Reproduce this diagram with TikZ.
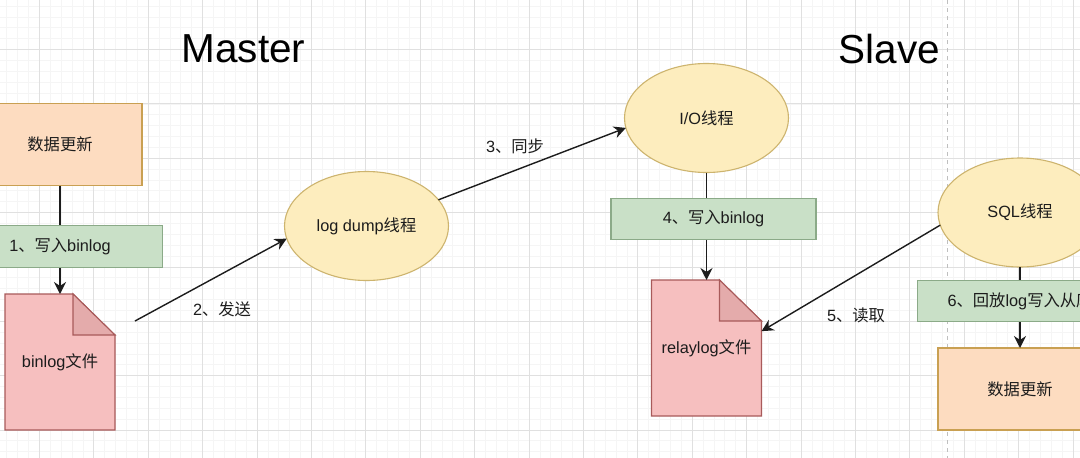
\documentclass[tikz,border=0pt]{standalone}
\usepackage{fontspec}
\setmainfont{Liberation Sans}
\newfontfamily\cjk{Noto Sans CJK SC}
\usetikzlibrary{arrows.meta,shapes.geometric}
\definecolor{rectfill}{HTML}{FDDCC0}
\definecolor{rectline}{HTML}{C9A052}
\definecolor{greenfill}{HTML}{C9E0C7}
\definecolor{greenline}{HTML}{8BAA88}
\definecolor{ellfill}{HTML}{FDEDBE}
\definecolor{ellline}{HTML}{CDB46E}
\definecolor{filefill}{HTML}{F6BFBF}
\definecolor{fileline}{HTML}{A85A5A}
\definecolor{foldfill}{HTML}{E4ABAB}
\definecolor{inkcol}{HTML}{1C1C1C}
\tikzset{
  base/.style={font=\fontsize{16.3}{19}\selectfont,text=inkcol,inner sep=0pt,outer sep=0pt},
  rectbox/.style={base,draw=rectline,fill=rectfill,line width=1.1pt,minimum width=164pt,minimum height=82pt},
  greenbox/.style={base,draw=greenline,fill=greenfill,line width=1.1pt,minimum width=205pt,minimum height=41.5pt},
  thread/.style={base,ellipse,draw=ellline,fill=ellfill,line width=1.1pt,minimum width=164pt,minimum height=109pt},
  filebox/.style={base,minimum width=110pt,minimum height=136pt},
  label/.style={base},
  title/.style={font=\fontsize{40.5}{48}\selectfont,text=black,inner sep=0pt},
  link/.style={draw=inkcol,line width=1.4pt},
  arrow/.style={link,-{Stealth[length=12pt,width=12pt]}}
}
% file icon with its folded corner
\newcommand{\docfile}[4]{
\draw[draw=fileline,fill=filefill,line width=1.1pt,shift={(#2,#3)}] (-55,-68) -- (13,-68) -- (55,-27) -- (55,68) -- (-55,68) -- cycle;
\draw[draw=fileline,fill=foldfill,line width=1.1pt,shift={(#2,#3)}] (13,-68) -- (55,-27) -- (13,-27) -- cycle;
\node[filebox] (#1) at (#2,#3) {#4};
}
\begin{document}
\begin{tikzpicture}[x=1pt,y=-1pt]
\useasboundingbox (0,0) rectangle (1080,458);
\fill[white] (0,0) rectangle (1080,458);

% grid
\foreach \i in {0,...,101} \draw[color=black!4,line width=0.7pt] ({\i*10.88-15},0) -- ({\i*10.88-15},458);
\foreach \j in {0,...,43} \draw[color=black!4,line width=0.7pt] (0,{\j*10.87-4.85}) -- (1080,{\j*10.87-4.85});
\foreach \i in {0,...,20} \draw[color=black!12,line width=0.8pt] ({\i*54.4-15},0) -- ({\i*54.4-15},458);
\foreach \j in {0,...,8} \draw[color=black!12,line width=0.8pt] (0,{\j*54.35-4.85}) -- (1080,{\j*54.35-4.85});
\draw[color=black!25,line width=1.2pt,dash pattern=on 4pt off 4pt] (947.7,0) -- (947.7,458);

\node[title] (master) at (243.5,49) {Master};
\node[title] (slave) at (889.5,49) {Slave};

% master side
\node[rectbox] (updateM) at (60,144.5) {{\cjk 数据更新}};
\docfile{binlog}{60}{362}{binlog{\cjk 文件}}
\node[thread] (dump) at (366.5,226) {log dump{\cjk 线程}};
\coordinate (sendstart) at (135,321);

% slave side
\node[thread] (io) at (706.5,118) {I/O{\cjk 线程}};
\docfile{relay}{706.5}{348}{relaylog{\cjk 文件}}
\node[thread] (sql) at (1020,212.5) {SQL{\cjk 线程}};
\node[rectbox] (updateS) at (1020,389) {{\cjk 数据更新}};

% links run under the green boxes
\draw[arrow] (updateM.south) -- (binlog.north);
\draw[arrow] (sendstart) -- (dump.189);
\draw[arrow] (dump.20) -- (io.187);
\draw[arrow] (io.south) -- (relay.north);
\draw[arrow] (sql.189) -- (relay.17);
\draw[arrow] (sql.south) -- (updateS.north);

\node[greenbox] (write1) at (60,246.5) {1{\cjk 、写入}binlog};
\node[greenbox] (write4) at (713.5,219) {4{\cjk 、写入}binlog};
\node[greenbox] (replay) at (1020,301) {6{\cjk 、回放}log{\cjk 写入从库}};

\node[label] (send) at (222,309) {2{\cjk 、发送}};
\node[label] (sync) at (515,146) {3{\cjk 、同步}};
\node[label] (read) at (856,315) {5{\cjk 、读取}};
\end{tikzpicture}
\end{document}
